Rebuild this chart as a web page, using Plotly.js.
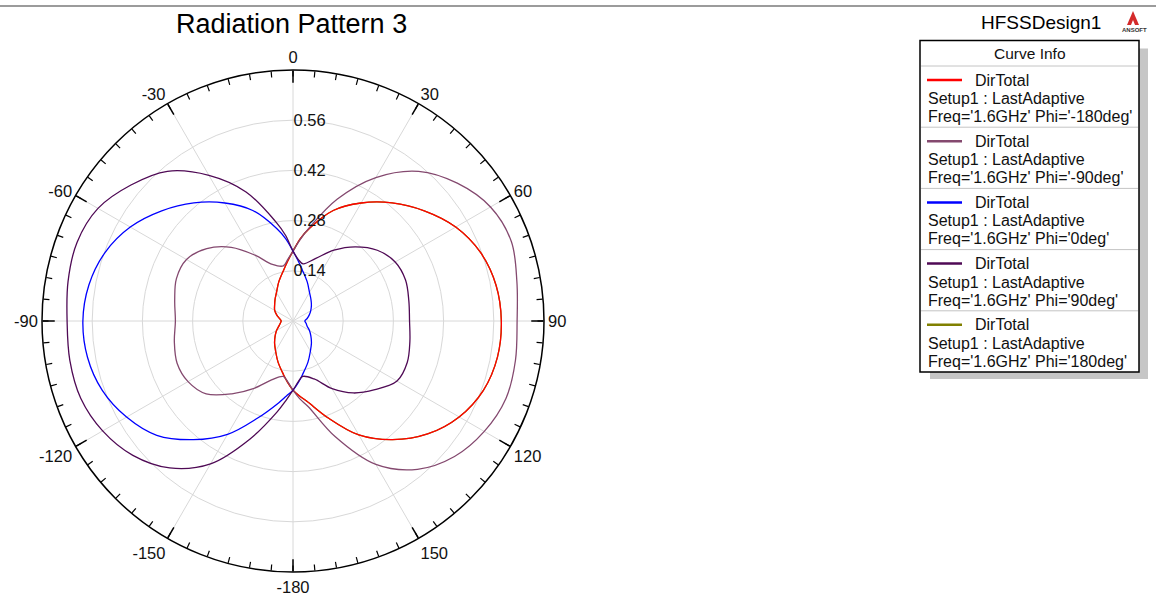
<!DOCTYPE html>
<html>
<head>
<meta charset="utf-8">
<script src="https://cdn.plot.ly/plotly-3.0.1.min.js"></script>
<style>
  html, body { margin: 0; padding: 0; background: #ffffff; }
  #chart { width: 1156px; height: 599px; }
</style>
</head>
<body>
<div id="chart"></div>
<script>
// Elevation sweep (deg) shared by every phi cut
const thetaDeg = [-180, -175, -170, -160, -150, -140, -130, -120, -110, -100, -90, -80, -70, -60, -50, -40, -30, -20, -10, -5,
  0, 5, 10, 20, 30, 40, 50, 60, 70, 80, 90, 100, 110, 120, 130, 140, 150, 160, 170, 175, 180];

// DirTotal at 1.6 GHz, one array per phi cut
const dirPhiNeg180 = [0.193, 0.172, 0.152, 0.122, 0.097, 0.080, 0.065, 0.053, 0.042, 0.036, 0.033, 0.038, 0.048, 0.059, 0.067, 0.078, 0.092, 0.116, 0.146, 0.168,
  0.195, 0.230, 0.262, 0.328, 0.380, 0.430, 0.478, 0.524, 0.557, 0.575, 0.581, 0.579, 0.565, 0.535, 0.490, 0.432, 0.367, 0.288, 0.228, 0.210, 0.193];
const dirPhiNeg90 = [0.193, 0.170, 0.157, 0.175, 0.217, 0.265, 0.316, 0.338, 0.344, 0.336, 0.328, 0.335, 0.346, 0.343, 0.314, 0.268, 0.212, 0.168, 0.156, 0.172,
  0.195, 0.228, 0.265, 0.362, 0.462, 0.545, 0.598, 0.636, 0.648, 0.634, 0.625, 0.630, 0.632, 0.616, 0.588, 0.540, 0.462, 0.343, 0.242, 0.218, 0.193];
const dirPhi0 = [0.193, 0.210, 0.232, 0.288, 0.365, 0.432, 0.496, 0.536, 0.566, 0.582, 0.586, 0.578, 0.558, 0.524, 0.478, 0.430, 0.380, 0.328, 0.262, 0.230,
  0.195, 0.168, 0.146, 0.116, 0.092, 0.078, 0.067, 0.057, 0.048, 0.040, 0.033, 0.037, 0.042, 0.053, 0.065, 0.080, 0.097, 0.122, 0.152, 0.172, 0.193];
const dirPhi90 = [0.193, 0.222, 0.258, 0.350, 0.460, 0.535, 0.583, 0.613, 0.630, 0.632, 0.630, 0.637, 0.641, 0.628, 0.590, 0.545, 0.469, 0.383, 0.282, 0.240,
  0.195, 0.172, 0.162, 0.186, 0.228, 0.270, 0.307, 0.329, 0.334, 0.328, 0.325, 0.331, 0.339, 0.335, 0.298, 0.262, 0.218, 0.172, 0.157, 0.170, 0.193];
const dirPhi180 = [0.193, 0.172, 0.152, 0.122, 0.097, 0.080, 0.065, 0.053, 0.042, 0.036, 0.033, 0.038, 0.048, 0.059, 0.067, 0.078, 0.092, 0.116, 0.146, 0.168,
  0.195, 0.230, 0.262, 0.328, 0.380, 0.430, 0.478, 0.524, 0.557, 0.575, 0.581, 0.579, 0.565, 0.535, 0.490, 0.432, 0.367, 0.288, 0.228, 0.210, 0.193];

const phiLabels = ["-180deg", "-90deg", "0deg", "90deg", "180deg"];
const curveColors = ["#ff0000", "#84496f", "#0000ff", "#4f0a55", "#808000"];
const curveValues = [dirPhiNeg180, dirPhiNeg90, dirPhi0, dirPhi90, dirPhi180];

// Axis ticks
const angTickVals = [0, 30, 60, 90, 120, 150, 180, 210, 240, 270, 300, 330];
const angTickText = ["0", "30", "60", "90", "120", "150", "-180", "-150", "-120", "-90", "-60", "-30"];
const radTickVals = [0.14, 0.28, 0.42, 0.56];
const radTickText = ["0.14", "0.28", "0.42", "0.56"];

const W = 1156, H = 599;
const px = x => x / W;
const py = y => 1 - y / H;
const FONT = "Liberation Sans, Arial, sans-serif";

// Polar traces; the phi=180 cut lies under the identical phi=-180 cut
const drawOrder = [4, 0, 1, 2, 3];
const traces = drawOrder.map(i => ({
  type: "scatterpolar",
  mode: "lines",
  r: curveValues[i],
  theta: thetaDeg,
  name: "DirTotal Phi='" + phiLabels[i] + "'",
  line: { color: curveColors[i], width: 1.3, shape: "spline", smoothing: 1 },
  hoverinfo: "skip",
  showlegend: false,
  subplot: "polar"
}));

// Empty trace so the minor-tick overlay subplot exists
const minorTicks = [];
for (let a = 0; a < 360; a += 5) minorTicks.push(a);
traces.push({ type: "scatterpolar", r: [], theta: [], subplot: "polar2", showlegend: false, hoverinfo: "skip" });

const domain = { x: [px(42), px(544)], y: [py(572), py(70)] };

// Curve-info panel
const boxL = 920, boxR = 1139, boxT = 40.5, boxB = 372;
const headerSep = 66, rowH = 61.2;
const shapes = [
  { type: "line", xref: "paper", yref: "paper", x0: 0, x1: 1, y0: py(6), y1: py(6), line: { color: "#7a7a7a", width: 1.5 } },
  { type: "rect", xref: "paper", yref: "paper", x0: px(boxL + 10), x1: px(boxR + 9), y0: py(boxT + 8), y1: py(boxB + 7),
    fillcolor: "#c6c6c6", line: { width: 0 } },
  { type: "rect", xref: "paper", yref: "paper", x0: px(boxL), x1: px(boxR), y0: py(boxT), y1: py(boxB),
    fillcolor: "#ffffff", line: { color: "#000000", width: 1.5 } },
  // ANSOFT mark
  { type: "path", xref: "paper", yref: "paper",
    path: "M " + px(1127) + "," + py(25) + " L " + px(1133) + "," + py(11) + " L " + px(1139) + "," + py(25) + " Z",
    fillcolor: "#d42a2a", line: { width: 0 } },
  { type: "path", xref: "paper", yref: "paper",
    path: "M " + px(1131) + "," + py(25) + " L " + px(1133) + "," + py(20) + " L " + px(1135) + "," + py(25) + " Z",
    fillcolor: "#ffffff", line: { width: 0 } }
];
const annotations = [
  { text: "Radiation Pattern 3", x: px(291), y: py(24), xref: "paper", yref: "paper", showarrow: false,
    xanchor: "center", yanchor: "middle", font: { family: FONT, size: 27, color: "#000" } },
  { text: "HFSSDesign1", x: px(1041), y: py(23), xref: "paper", yref: "paper", showarrow: false,
    xanchor: "center", yanchor: "middle", font: { family: FONT, size: 19, color: "#000" } },
  { text: "ANSOFT", x: px(1134), y: py(30), xref: "paper", yref: "paper", showarrow: false,
    xanchor: "center", yanchor: "middle", font: { family: FONT, size: 6, color: "#333", weight: "bold" } },
  { text: "Curve Info", x: px((boxL + boxR) / 2), y: py(54), xref: "paper", yref: "paper", showarrow: false,
    xanchor: "center", yanchor: "middle", font: { family: FONT, size: 15.5, color: "#111" } }
];
phiLabels.forEach((lab, k) => {
  const top = headerSep + rowH * k;
  shapes.push({ type: "line", xref: "paper", yref: "paper", x0: px(boxL + 1), x1: px(boxR - 1), y0: py(top), y1: py(top),
    line: { color: "#c4c4c4", width: 1 } });
  shapes.push({ type: "line", xref: "paper", yref: "paper", x0: px(927), x1: px(962), y0: py(top + 14), y1: py(top + 14),
    line: { color: curveColors[k], width: 2.5 } });
  const rows = [
    { t: "DirTotal", x: 973, y: top + 14 },
    { t: "Setup1 : LastAdaptive", x: 926, y: top + 32.5 },
    { t: "Freq='1.6GHz' Phi='" + lab + "'", x: 926, y: top + 50.5 }
  ];
  rows.forEach(r => annotations.push({
    text: r.t, x: px(r.x), y: py(r.y), xref: "paper", yref: "paper", showarrow: false,
    xanchor: "left", yanchor: "middle", font: { family: FONT, size: 16, color: "#111" }
  }));
});

const layout = {
  width: W, height: H,
  margin: { l: 0, r: 0, t: 0, b: 0 },
  paper_bgcolor: "#ffffff",
  showlegend: false,
  font: { family: FONT, color: "#111" },
  polar: {
    domain: domain,
    bgcolor: "rgba(0,0,0,0)",
    angularaxis: {
      rotation: 90, direction: "clockwise",
      tickmode: "array", tickvals: angTickVals, ticktext: angTickText,
      ticks: "inside", ticklen: 12, tickwidth: 1.5, tickcolor: "#000",
      showline: true, linecolor: "#000", linewidth: 1.5,
      showgrid: true, gridcolor: "#d8d8d8", gridwidth: 1,
      tickfont: { family: FONT, size: 16.5, color: "#111" }
    },
    radialaxis: {
      range: [0, 0.7], angle: 90, tickangle: 90,
      tickmode: "array", tickvals: radTickVals, ticktext: radTickText,
      showline: false, ticks: "",
      showgrid: true, gridcolor: "#d8d8d8", gridwidth: 1,
      tickfont: { family: FONT, size: 16.5, color: "#111" }
    }
  },
  polar2: {
    domain: domain,
    bgcolor: "rgba(0,0,0,0)",
    angularaxis: {
      rotation: 90, direction: "clockwise",
      tickmode: "array", tickvals: minorTicks,
      ticks: "inside", ticklen: 6, tickwidth: 1.2, tickcolor: "#000",
      showticklabels: false, showline: false, showgrid: false
    },
    radialaxis: { visible: false, range: [0, 0.7] }
  },
  shapes: shapes,
  annotations: annotations
};

Plotly.newPlot("chart", traces, layout, { displayModeBar: false, staticPlot: true });
</script>
</body>
</html>
